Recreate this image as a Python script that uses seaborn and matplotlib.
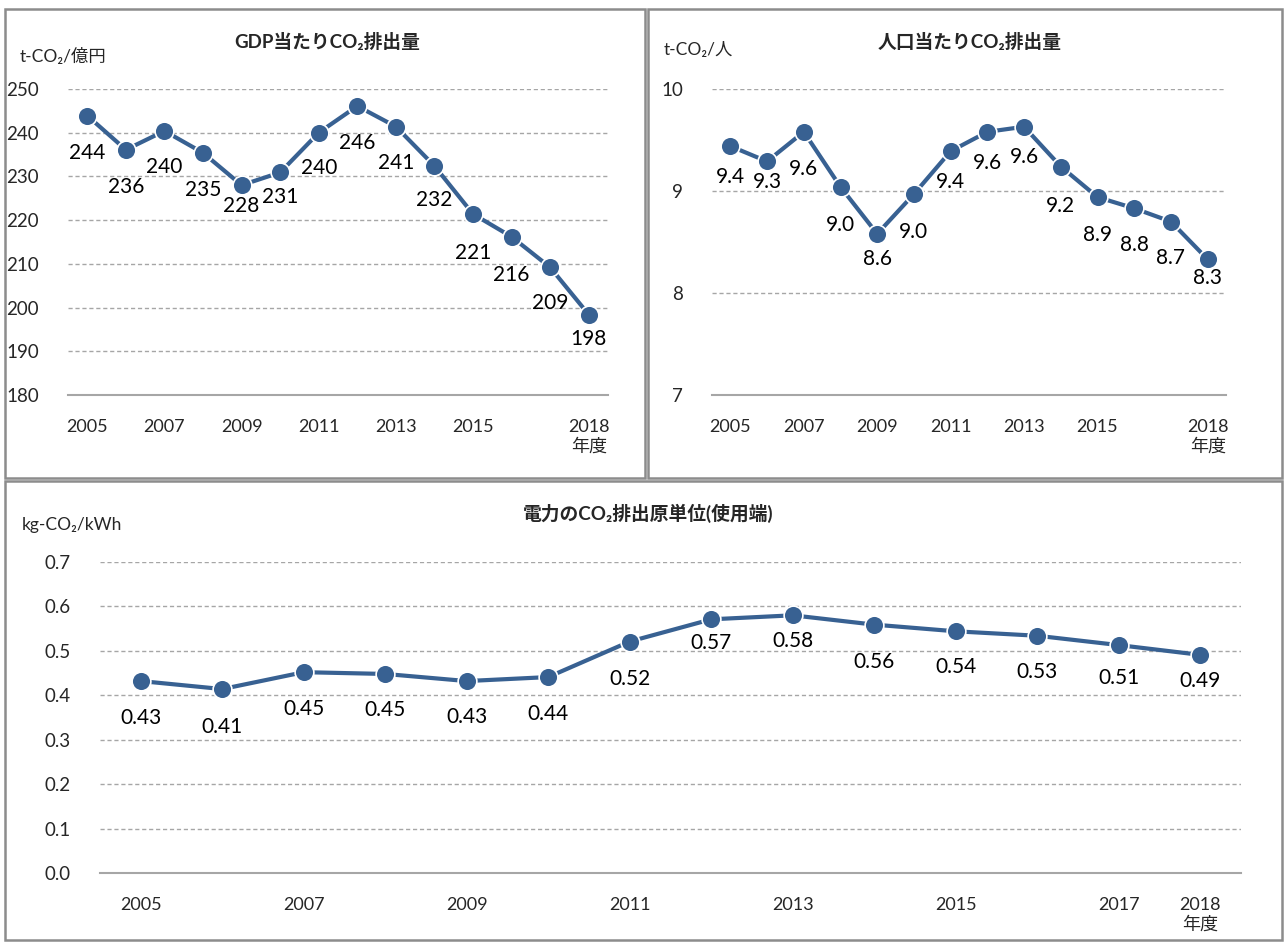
import matplotlib
matplotlib.use("Agg")
import matplotlib.pyplot as plt
import seaborn as sns
import pandas as pd
from matplotlib.patches import Rectangle

# data
years = [2005, 2006, 2007, 2008, 2009, 2010, 2011, 2012, 2013, 2014, 2015, 2016, 2017, 2018]
gdp_co2 = [243.9, 236.1, 240.4, 235.4, 228.0, 230.9, 240.0, 246.1, 241.4, 232.4, 221.4, 216.2, 209.2, 198.4]
pop_co2 = [9.44, 9.29, 9.58, 9.04, 8.58, 8.97, 9.39, 9.58, 9.63, 9.24, 8.94, 8.83, 8.70, 8.33]
elec_co2 = [0.432, 0.414, 0.452, 0.448, 0.432, 0.441, 0.521, 0.571, 0.580, 0.559, 0.544, 0.534, 0.513, 0.491]

top_ticks = [2005, 2007, 2009, 2011, 2013, 2015, 2018]
bottom_ticks = [2005, 2007, 2009, 2011, 2013, 2015, 2017, 2018]

titles = ["GDP当たりCO₂排出量", "人口当たりCO₂排出量", "電力のCO₂排出原単位(使用端)"]
units = ["t-CO₂/億円", "t-CO₂/人", "kg-CO₂/kWh"]

# label offsets below each point (pixels)
gdp_off = [37, 37, 36, 37, 21, 25, 35, 37, 36, 34, 39, 38, 36, 24]
pop_off = [31, 21, 37, 38, 25, 38, 31, 31, 30, 39, 38, 37, 36, 19]
elec_off = [37, 38, 37, 36, 36, 37, 37, 24, 26, 37, 36, 36, 33, 26]

LINE = "#386192"
GRID = "#a6a6a6"

sns.set_theme(style="white")
plt.rcParams["font.family"] = ["Lato", "Noto Sans CJK JP", "DejaVu Sans"]

W, H = 1284, 942
fig = plt.figure(figsize=(W / 100, H / 100), dpi=100)


def box(l, t, r, b):
    return [l / W, 1 - b / H, (r - l) / W, (b - t) / H]


def draw(ax, vals, offs, fmt, ylim, yticks, yfmt, xticks):
    df = pd.DataFrame({"year": years, "value": vals})
    sns.lineplot(data=df, x="year", y="value", ax=ax, color=LINE, linewidth=3,
                 marker="o", markersize=13.5, markeredgecolor="white", markeredgewidth=1.2)
    ax.set_xlim(2004.5, 2018.5)
    ax.set_ylim(*ylim)
    ax.set_yticks(yticks)
    ax.set_yticklabels([yfmt.format(v) for v in yticks], fontsize=13.5)
    ax.set_xticks(xticks)
    ax.set_xticklabels([str(y) if y != 2018 else "2018\n年度" for y in xticks],
                       fontsize=13, va="top", linespacing=1.25)
    ax.tick_params(axis="x", pad=17, length=0)
    ax.tick_params(axis="y", pad=21, length=0)
    ax.set_xlabel("")
    ax.set_ylabel("")
    for s in ["left", "right", "top"]:
        ax.spines[s].set_visible(False)
    ax.spines["bottom"].set_color(GRID)
    ax.spines["bottom"].set_linewidth(1.5)
    for yv in yticks[1:]:
        ax.axhline(yv, color=GRID, linestyle=(0, (3, 2)), linewidth=1, zorder=0)
    for x, v, o in zip(years, vals, offs):
        ax.annotate(fmt.format(v), (x, v), xytext=(0, -o), textcoords="offset pixels",
                    ha="center", va="center", fontsize=15, color="black")


ax1 = fig.add_axes(box(68, 89, 608, 395))
draw(ax1, gdp_co2, gdp_off, "{:.0f}", (180, 250), [180, 190, 200, 210, 220, 230, 240, 250], "{:.0f}", top_ticks)

ax2 = fig.add_axes(box(712, 89, 1226, 395))
draw(ax2, pop_co2, pop_off, "{:.1f}", (7, 10), [7, 8, 9, 10], "{:.0f}", top_ticks)

ax3 = fig.add_axes(box(100, 562, 1241, 873))
draw(ax3, elec_co2, elec_off, "{:.2f}", (0, 0.7), [0, 0.1, 0.2, 0.3, 0.4, 0.5, 0.6, 0.7], "{:.1f}", bottom_ticks)

# titles and unit labels
fig.text(327 / W, 1 - 42 / H, titles[0], ha="center", va="center", fontsize=13.5, fontweight="bold")
fig.text(970 / W, 1 - 42 / H, titles[1], ha="center", va="center", fontsize=13.5, fontweight="bold")
fig.text(648 / W, 1 - 513 / H, titles[2], ha="center", va="center", fontsize=13.5, fontweight="bold")
fig.text(20 / W, 1 - 57 / H, units[0], ha="left", va="center", fontsize=12.5)
fig.text(664 / W, 1 - 50 / H, units[1], ha="left", va="center", fontsize=12.5)
fig.text(22 / W, 1 - 525 / H, units[2], ha="left", va="center", fontsize=12.5)

# panel frames
for l, t, r, b in [(5, 9, 645, 478), (648, 9, 1282, 478), (5, 481, 1282, 940)]:
    fig.add_artist(Rectangle((l / W, 1 - b / H), (r - l) / W, (b - t) / H, transform=fig.transFigure,
                             fill=False, edgecolor="#8c8c8c", linewidth=1.8))

plt.savefig("out.png", dpi=100)
plt.close()
